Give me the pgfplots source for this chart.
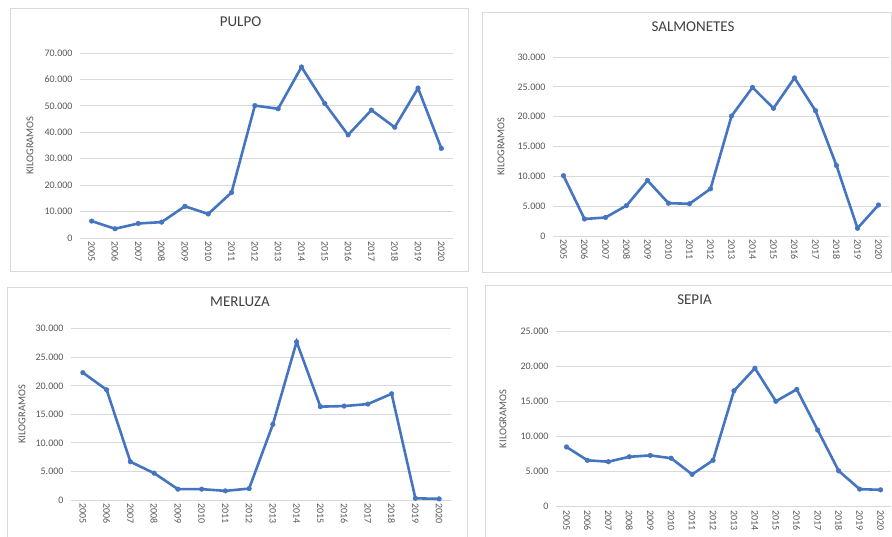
\documentclass[border=0pt]{standalone}
\usepackage{pgfplots}
\pgfplotsset{compat=1.18}
\usepackage{fontspec}
\setmainfont{Carlito}
\definecolor{serie}{HTML}{4575C0}
\definecolor{gridc}{HTML}{D9D9D9}
\definecolor{txt}{HTML}{595959}
\definecolor{titc}{HTML}{404040}
\definecolor{framec}{HTML}{D9D9D9}
\pgfplotsset{
  panel/.style={
    scale only axis,
    xmin=-0.5, xmax=15.5, ymin=0,
    axis line style={draw=none},
    major tick length=0pt,
    ymajorgrids,
    grid style={gridc, line width=0.9pt},
    xtick={0,...,15},
    xticklabels={2005,2006,2007,2008,2009,2010,2011,2012,2013,2014,2015,2016,2017,2018,2019,2020},
    xticklabel style={rotate=-90, anchor=west, font=\fontsize{10}{12}\selectfont, text=txt, xshift=0pt},
    yticklabel style={font=\fontsize{10}{12}\selectfont, text=txt, xshift=-4pt},
    scaled y ticks=false,
    /pgf/number format/.cd, 1000 sep={.}, assume math mode=true,
    /pgfplots/.cd,
    ylabel={KILOGRAMOS},
    ylabel style={at={(axis description cs:0,0.5)}, anchor=center, font=\fontsize{10.5}{12}\selectfont, text=txt},
    title style={at={(axis description cs:0.5,1)}, anchor=center, font=\fontsize{15}{18}\selectfont, text=titc},
  },
  serie/.style={color=serie, line width=2.6pt, mark=*, mark size=2.3pt, mark options={fill=serie, draw=serie, line width=0.5pt}},
}
\begin{document}
\begin{tikzpicture}
\path[use as bounding box] (0pt,0pt) rectangle (892pt,536pt);
\fill[white] (0pt,0pt) rectangle (892pt,536pt);
% panel frames
\draw[framec, line width=0.8pt] (10pt,265pt) rectangle (468pt,528pt);
\draw[framec, line width=0.8pt] (482pt,264pt) rectangle (891pt,524pt);
\draw[framec, line width=0.8pt] (7pt,-5pt) rectangle (467pt,249pt);
\draw[framec, line width=0.8pt] (485pt,-5pt) rectangle (897pt,251pt);

% PULPO
\begin{axis}[panel, at={(80pt,298pt)}, anchor=south west, width=373pt, height=185pt,
  ymax=70000, ytick={0,10000,...,70000},
  title={PULPO}, title style={xshift=-26pt, yshift=25pt},
  ylabel style={yshift=50pt}]
\addplot[serie] coordinates {
(0,6400) (1,3500) (2,5500) (3,6000) (4,12000) (5,9100) (6,17200) (7,50100)
(8,48900) (9,64700) (10,50900) (11,39000) (12,48400) (13,41900) (14,56700) (15,33900)};
\end{axis}

% SALMONETES
\begin{axis}[panel, at={(553pt,300pt)}, anchor=south west, width=336pt, height=179pt,
  ymax=30000, ytick={0,5000,...,30000},
  title={SALMONETES}, title style={xshift=-28pt, yshift=24pt},
  ylabel style={yshift=52pt}]
\addplot[serie] coordinates {
(0,10100) (1,2850) (2,3100) (3,5100) (4,9300) (5,5500) (6,5400) (7,7900)
(8,20100) (9,24900) (10,21400) (11,26500) (12,21000) (13,11800) (14,1300) (15,5200)};
\end{axis}

% MERLUZA
\begin{axis}[panel, at={(71pt,36pt)}, anchor=south west, width=380pt, height=171.3pt,
  ymax=30000, ytick={0,5000,...,30000},
  title={MERLUZA}, title style={xshift=-21pt, yshift=21pt},
  ylabel style={yshift=49pt}]
\addplot[serie] coordinates {
(0,22300) (1,19300) (2,6700) (3,4700) (4,1900) (5,1900) (6,1600) (7,2000)
(8,13250) (9,27700) (10,16350) (11,16450) (12,16800) (13,18600) (14,300) (15,200)};
\end{axis}

% SEPIA
\begin{axis}[panel, at={(556pt,29.3pt)}, anchor=south west, width=335pt, height=175.7pt,
  ymax=25000, ytick={0,5000,...,25000},
  title={SEPIA}, title style={xshift=-29pt, yshift=25pt},
  ylabel style={yshift=53pt}]
\addplot[serie] coordinates {
(0,8500) (1,6600) (2,6400) (3,7100) (4,7300) (5,6900) (6,4600) (7,6600)
(8,16500) (9,19700) (10,15000) (11,16700) (12,10900) (13,5100) (14,2500) (15,2400)};
\end{axis}
\end{tikzpicture}
\end{document}
